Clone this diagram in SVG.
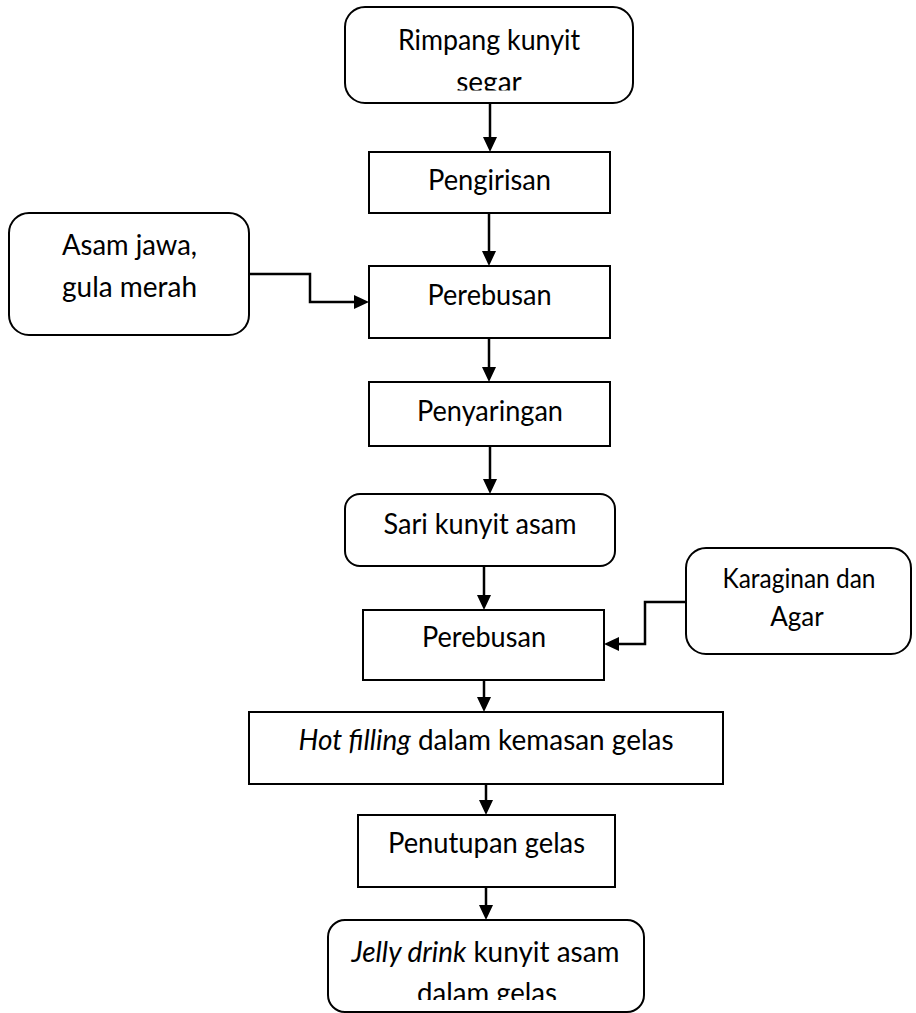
<svg xmlns="http://www.w3.org/2000/svg" width="916" height="1013" viewBox="0 0 916 1013">
<style>
.box{fill:#fff;stroke:#000;stroke-width:2}
.t{font-family:Lato,"Open Sans","Liberation Sans",sans-serif;font-size:28px;fill:#000;text-anchor:middle}
.s{font-size:26px}
.i{font-style:italic}
.c{fill:none;stroke:#000;stroke-width:2.5;marker-end:url(#ah)}
</style>
<defs>
<marker id="ah" markerUnits="userSpaceOnUse" markerWidth="15" markerHeight="14" viewBox="0 0 15 14" refX="7" refY="7" orient="auto">
<path d="M0,0 L15,7 L0,14 z" fill="#000"/>
</marker>
<clipPath id="clipTop"><rect x="346" y="8" width="286" height="82.5"/></clipPath>
<clipPath id="clipBot"><rect x="329" y="921" width="315" height="79"/></clipPath>
</defs>
<rect width="916" height="1013" fill="#fff"/>
<g id="connectors">
<line class="c" x1="490" y1="103" x2="490" y2="144"/>
<line class="c" x1="489" y1="213" x2="489" y2="258"/>
<line class="c" x1="489" y1="333" x2="489" y2="374"/>
<line class="c" x1="490" y1="446" x2="490" y2="486"/>
<line class="c" x1="484" y1="566" x2="484" y2="602"/>
<line class="c" x1="484" y1="680" x2="484" y2="704"/>
<line class="c" x1="486" y1="784" x2="486" y2="807"/>
<line class="c" x1="486" y1="887" x2="486" y2="912"/>
<polyline class="c" points="249,274 310,274 310,302 361,302"/>
<polyline class="c" points="686,602 645,602 645,644 612,644"/>
</g>
<g id="n_rimpang">
<rect class="box" x="345" y="7" width="288" height="96" rx="20"/>
<g clip-path="url(#clipTop)">
<text class="t" x="489" y="50" textLength="182" lengthAdjust="spacingAndGlyphs">Rimpang kunyit</text>
<text class="t" x="489" y="92">segar</text>
</g>
</g>
<g id="n_pengirisan">
<rect class="box" x="369" y="152" width="241" height="61"/>
<text class="t" x="489.5" y="190" textLength="123" lengthAdjust="spacingAndGlyphs">Pengirisan</text>
</g>
<g id="n_asam">
<rect class="box" x="9" y="213" width="240" height="122" rx="20"/>
<text class="t" x="129.5" y="255" textLength="135" lengthAdjust="spacingAndGlyphs">Asam jawa,</text>
<text class="t" x="129.5" y="297" textLength="135" lengthAdjust="spacingAndGlyphs">gula merah</text>
</g>
<g id="n_perebusan1">
<rect class="box" x="369" y="266" width="241" height="72"/>
<text class="t" x="489.5" y="305" textLength="124" lengthAdjust="spacingAndGlyphs">Perebusan</text>
</g>
<g id="n_penyaringan">
<rect class="box" x="369" y="382" width="241" height="64"/>
<text class="t" x="490" y="421" textLength="146" lengthAdjust="spacingAndGlyphs">Penyaringan</text>
</g>
<g id="n_sari">
<rect class="box" x="345" y="494" width="270" height="72" rx="15"/>
<text class="t" x="480" y="534" textLength="193" lengthAdjust="spacingAndGlyphs">Sari kunyit asam</text>
</g>
<g id="n_karaginan">
<rect class="box" x="686" y="548" width="225" height="106" rx="20"/>
<text class="t s" x="799" y="588" textLength="153" lengthAdjust="spacingAndGlyphs">Karaginan dan</text>
<text class="t s" x="797" y="626">Agar</text>
</g>
<g id="n_perebusan2">
<rect class="box" x="363" y="610" width="241" height="70"/>
<text class="t" x="484" y="647" textLength="124" lengthAdjust="spacingAndGlyphs">Perebusan</text>
</g>
<g id="n_hotfilling">
<rect class="box" x="249" y="712" width="474" height="72"/>
<text class="t" x="486" y="750" textLength="375" lengthAdjust="spacingAndGlyphs"><tspan class="i">Hot filling</tspan> dalam kemasan gelas</text>
</g>
<g id="n_penutupan">
<rect class="box" x="358" y="815" width="257" height="72"/>
<text class="t" x="486.5" y="853" textLength="197" lengthAdjust="spacingAndGlyphs">Penutupan gelas</text>
</g>
<g id="n_jelly">
<rect class="box" x="328" y="920" width="316" height="92" rx="17"/>
<g clip-path="url(#clipBot)">
<text class="t" x="485.5" y="962" textLength="268" lengthAdjust="spacingAndGlyphs"><tspan class="i">Jelly drink</tspan> kunyit asam</text>
<text class="t" x="487" y="1003" textLength="140" lengthAdjust="spacingAndGlyphs">dalam gelas</text>
</g>
</g>
</svg>
